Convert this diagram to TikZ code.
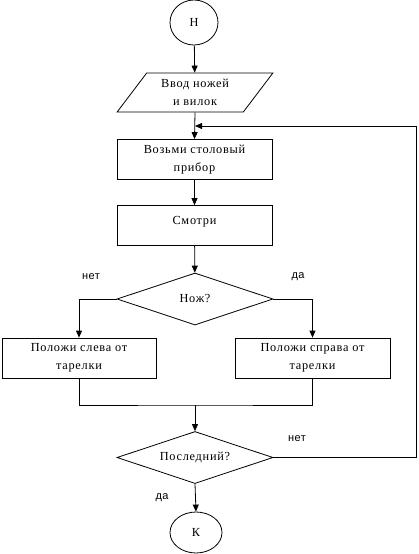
\documentclass[tikz,border=0pt]{standalone}
\usepackage{fontspec}
\setmainfont{Liberation Serif}[LetterSpace=6]
\newfontfamily\lblfont{Liberation Sans}[LetterSpace=4]
\usetikzlibrary{shapes.geometric,arrows.meta}
\begin{document}
\begin{tikzpicture}[x=1pt,y=-1pt, line width=0.8pt,
  >={Triangle[length=7pt,width=6pt]},
  every node/.style={font=\fontsize{12.3}{18}\selectfont, align=center},
  term/.style={ellipse, draw, minimum width=48pt, minimum height=45pt, inner sep=0pt},
  io/.style={trapezium, draw, trapezium left angle=52, trapezium right angle=128, trapezium stretches=true, minimum width=156pt, minimum height=39pt, inner sep=0pt},
  proc/.style={rectangle, draw, minimum width=155pt, minimum height=40pt, inner sep=0pt},
  dec/.style={diamond, draw, minimum width=156pt, minimum height=52pt, inner sep=0pt, aspect=3},
  lbl/.style={font=\lblfont\fontsize{11}{13}\selectfont}]
\useasboundingbox (0,0) rectangle (418,554);
\node[term] (n1) at (194,22.5) {Н};
\node[io] (n2) at (195,92.5) {Ввод ножей\\и вилок};
\node[proc] (n3) at (194.5,159.5) {Возьми столовый\\прибор};
\node[proc] (n4) at (194.5,225.5) {Смотри\\[-8pt]\mbox{}};
\node[dec] (n5) at (195,299) {Нож?};
\node[proc, minimum width=154pt] (n6) at (79,358) {Положи слева от\\тарелки};
\node[proc] (n7) at (312.5,358) {Положи справа от\\тарелки};
\node[dec] (n8) at (195,457.5) {Последний?};
\node[term, minimum width=52pt, minimum height=41pt] (n9) at (196,532.5) {К};
\coordinate (m) at (195,405);
\coordinate (r) at (416,126);
\coordinate (j) at (195,126);
\draw[->] (n1) -- (n2);
\draw[->] (n2.south) -- (n3.north);
\draw[->] (n3) -- (n4);
\draw[->] (n4) -- (n5);
\draw[->] (n5.west) -| (n6.north);
\draw[->] (n5.east) -| (n7.north);
\draw (n6.south) |- (m) -| (n7.south);
\draw[->] (m) -- (n8.north);
\draw[->] (n8.east) -| (r) -- (j);
\draw[->] (n8.south) -- (n9.north);
\node[lbl] (l1) at (91,277) {нет};
\node[lbl] (l2) at (298,277) {да};
\node[lbl] (l3) at (297,439) {нет};
\node[lbl] (l4) at (162,498) {да};
\end{tikzpicture}
\end{document}
